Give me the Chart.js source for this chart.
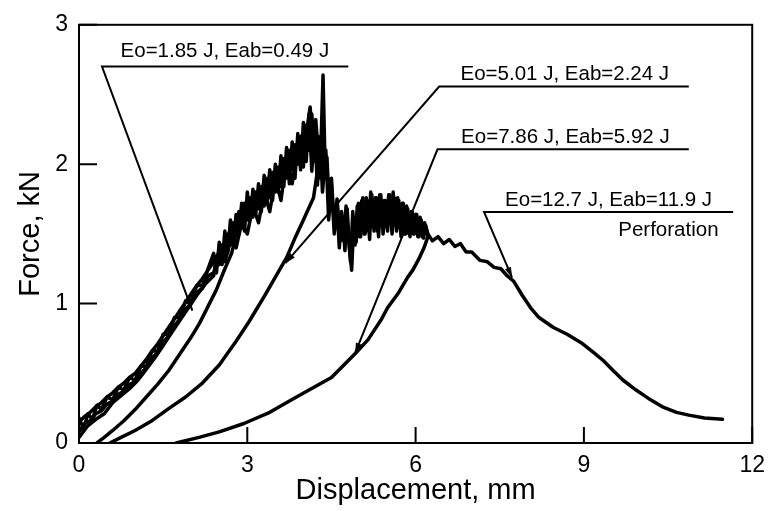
<!DOCTYPE html>
<html>
<head>
<meta charset="utf-8">
<script src="https://cdn.jsdelivr.net/npm/chart.js@4/dist/chart.umd.min.js"></script>
<style>
  body { margin: 0; background: #fff; }
  canvas { display: block; }
</style>
</head>
<body>
<canvas id="grafico" width="774" height="511"></canvas>
<script>
// Ensayo 1: Eo=1.85 J (carga y descarga)
const desp1 = [0, 0.1, 0.2, 0.3, 0.4, 0.5, 0.6, 0.7, 0.8, 0.9, 1.0, 1.1, 1.2, 1.3, 1.4, 1.5, 1.6, 1.7, 1.8, 1.9,
  2.0, 2.1, 2.2, 2.3, 2.4, 2.5, 2.6, 2.7, 2.78,
  2.72, 2.6, 2.45, 2.3, 2.15, 2.0, 1.8, 1.6, 1.4, 1.2, 1.0, 0.8, 0.6, 0.45, 0.32];
const fuerza1 = [0.15, 0.19, 0.22, 0.26, 0.29, 0.33, 0.36, 0.4, 0.43, 0.47, 0.5, 0.55, 0.6, 0.66, 0.71, 0.77, 0.83, 0.89, 0.95, 1.01,
  1.07, 1.13, 1.18, 1.24, 1.3, 1.37, 1.43, 1.5, 1.46,
  1.36, 1.25, 1.1, 0.98, 0.86, 0.76, 0.64, 0.52, 0.42, 0.33, 0.24, 0.16, 0.09, 0.04, 0];

// Ensayo 2: Eo=5.01 J
const desp2 = [0, 0.1, 0.2, 0.3, 0.4, 0.5, 0.6, 0.7, 0.8, 0.9, 1.0, 1.1, 1.2, 1.3, 1.4, 1.5, 1.6, 1.7, 1.8, 1.9,
  2.0, 2.1, 2.2, 2.3, 2.4, 2.5, 2.6, 2.7, 2.8, 2.9, 3.0, 3.1, 3.2, 3.3, 3.4, 3.5, 3.6, 3.7, 3.8, 3.9,
  4.0, 4.05, 4.1, 4.15, 4.2, 4.26, 4.3, 4.35, 4.38,
  4.3, 4.25, 4.18, 4.0, 3.85, 3.7, 3.5, 3.3, 3.03, 2.8, 2.5, 2.2, 1.9, 1.61, 1.3, 1.0, 0.75, 0.55];
const fuerza2 = [0.08, 0.14, 0.16, 0.21, 0.23, 0.28, 0.3, 0.35, 0.37, 0.42, 0.44, 0.5, 0.54, 0.61, 0.65, 0.72, 0.77, 0.84, 0.89, 0.96,
  1.0, 1.08, 1.11, 1.2, 1.22, 1.32, 1.3, 1.45, 1.4, 1.58, 1.5, 1.7, 1.58, 1.8, 1.66, 1.9, 1.74, 2.04, 1.86, 2.12,
  1.98, 2.28, 2.1, 2.36, 2.02, 2.2, 1.95, 2.64, 2.1,
  1.9, 1.95, 1.76, 1.6, 1.47, 1.33, 1.19, 1.05, 0.87, 0.73, 0.56, 0.43, 0.33, 0.25, 0.16, 0.09, 0.04, 0];

// Ensayo 3: Eo=7.86 J
const desp3 = [0, 0.15, 0.3, 0.45, 0.6, 0.75, 0.9, 1.05, 1.2, 1.35, 1.5, 1.65, 1.8, 1.95, 2.1, 2.25,
  2.4, 2.45, 2.5, 2.55, 2.6, 2.65, 2.7, 2.75, 2.8, 2.85, 2.9, 2.95, 3.0, 3.05, 3.1, 3.15, 3.2, 3.25, 3.3, 3.35,
  3.4, 3.45, 3.5, 3.55, 3.6, 3.65, 3.7, 3.75, 3.8, 3.85, 3.9, 3.95, 4.0, 4.06, 4.12, 4.16, 4.22, 4.28, 4.33, 4.38,
  4.42, 4.46, 4.5, 4.55, 4.6, 4.66, 4.7, 4.74, 4.78, 4.82, 4.86, 4.9, 4.94, 4.98, 5.02, 5.06, 5.1, 5.14, 5.18, 5.22,
  5.26, 5.3, 5.34, 5.38, 5.42, 5.46, 5.5, 5.54, 5.58, 5.62, 5.66, 5.7, 5.74, 5.78, 5.82, 5.86, 5.9, 5.94, 5.98, 6.02,
  6.06, 6.1, 6.14, 6.18, 6.22,
  6.15, 6.07, 5.95, 5.86, 5.7, 5.5, 5.38, 5.15, 4.92, 4.7, 4.5, 4.1, 3.79, 3.4, 2.94, 2.5, 2.14, 1.73];
const fuerza3 = [0.04, 0.12, 0.17, 0.21, 0.29, 0.34, 0.39, 0.45, 0.53, 0.61, 0.7, 0.79, 0.88, 0.97, 1.06, 1.14,
  1.2, 1.34, 1.28, 1.42, 1.34, 1.5, 1.42, 1.58, 1.48, 1.66, 1.54, 1.72, 1.6, 1.76, 1.62, 1.8, 1.68, 1.84, 1.7, 1.9,
  1.76, 1.94, 1.8, 1.98, 1.84, 2.04, 1.9, 2.1, 1.96, 2.14, 2.0, 2.2, 2.06, 2.24, 2.41, 2.2, 2.32, 2.0, 2.2, 1.9,
  2.05, 1.7, 1.9, 1.55, 1.75, 1.45, 1.62, 1.38, 1.68, 1.4, 1.24, 1.6, 1.44, 1.72, 1.48, 1.76, 1.5, 1.74, 1.46, 1.78,
  1.52, 1.76, 1.48, 1.78, 1.5, 1.74, 1.52, 1.78, 1.5, 1.76, 1.52, 1.74, 1.48, 1.72, 1.5, 1.68, 1.48, 1.66, 1.5, 1.64,
  1.48, 1.6, 1.47, 1.56, 1.48,
  1.4, 1.33, 1.24, 1.19, 1.08, 0.97, 0.88, 0.74, 0.64, 0.55, 0.47, 0.38, 0.31, 0.22, 0.14, 0.08, 0.04, 0];

// Ensayo 4: Eo=12.7 J (perforación)
const desp4 = [0, 0.08, 0.16, 0.24, 0.32, 0.4, 0.5, 0.6, 0.7, 0.8, 0.9, 1.0, 1.1, 1.2, 1.3, 1.4, 1.5, 1.6, 1.7, 1.8,
  1.9, 2.0, 2.1, 2.2, 2.3, 2.4, 2.45, 2.5, 2.55, 2.6, 2.65, 2.7, 2.75, 2.8, 2.85, 2.9, 2.95, 3.0, 3.05, 3.1,
  3.15, 3.2, 3.25, 3.3, 3.35, 3.4, 3.45, 3.5, 3.55, 3.6, 3.65, 3.7, 3.75, 3.8, 3.85, 3.9, 3.95, 4.0, 4.05, 4.1,
  4.15, 4.2, 4.25, 4.3, 4.34, 4.4, 4.45, 4.5, 4.55, 4.6, 4.64, 4.68, 4.72, 4.76, 4.8, 4.84, 4.88, 4.92, 4.96, 5.0,
  5.04, 5.08, 5.12, 5.16, 5.2, 5.24, 5.28, 5.32, 5.36, 5.4, 5.44, 5.48, 5.52, 5.56, 5.6, 5.64, 5.68, 5.72, 5.76, 5.8,
  5.84, 5.88, 5.92, 5.96, 6.0, 6.04, 6.08, 6.12, 6.16, 6.22, 6.3, 6.4, 6.5, 6.6, 6.7, 6.8, 6.9, 7.0, 7.15, 7.28,
  7.4, 7.52, 7.63, 7.75, 7.9, 8.05, 8.2, 8.45, 8.7, 8.95, 9.17, 9.35, 9.52, 9.7, 9.93, 10.15, 10.4, 10.65, 10.87, 11.15,
  11.47];
const fuerza4 = [0.18, 0.1, 0.21, 0.17, 0.27, 0.24, 0.33, 0.31, 0.4, 0.38, 0.47, 0.45, 0.55, 0.55, 0.66, 0.66, 0.78, 0.78, 0.9, 0.9,
  1.02, 1.02, 1.13, 1.13, 1.25, 1.36, 1.22, 1.44, 1.28, 1.52, 1.36, 1.6, 1.42, 1.64, 1.5, 1.72, 1.52, 1.8, 1.6, 1.82,
  1.64, 1.86, 1.66, 1.92, 1.72, 1.96, 1.74, 2.0, 1.8, 2.06, 1.84, 2.12, 1.86, 2.16, 1.9, 2.22, 1.96, 2.3, 2.02, 2.36,
  1.95, 2.25, 1.85, 2.15, 1.8, 2.1, 1.6, 1.85, 1.5, 1.7, 1.4, 1.66, 1.45, 1.7, 1.5, 1.3, 1.66, 1.42, 1.7, 1.48,
  1.74, 1.5, 1.76, 1.52, 1.8, 1.55, 1.76, 1.52, 1.78, 1.56, 1.74, 1.55, 1.78, 1.58, 1.8, 1.56, 1.76, 1.54, 1.72, 1.5,
  1.7, 1.5, 1.66, 1.5, 1.64, 1.48, 1.62, 1.48, 1.58, 1.5, 1.45, 1.48, 1.43, 1.46, 1.41, 1.43, 1.37, 1.37, 1.31, 1.3,
  1.26, 1.25, 1.2, 1.16, 1.06, 0.97, 0.9, 0.83, 0.78, 0.72, 0.65, 0.59, 0.52, 0.45, 0.38, 0.32, 0.26, 0.22, 0.2, 0.18,
  0.17];

// Textos de las notas
const notasTexto = ['Eo=1.85 J, Eab=0.49 J', 'Eo=5.01 J, Eab=2.24 J', 'Eo=7.86 J, Eab=5.92 J', 'Eo=12.7 J, Eab=11.9 J'];
const textoPerforacion = 'Perforation';

// Posición de cada nota en unidades del gráfico (mm, kN)
const notas = [
  { texto: 0, tx: 2.6, ty: 2.771, x0: 0.41, x1: 4.8, yl: 2.70, px: 2.02, py: 0.95 },
  { texto: 1, tx: 8.66, ty: 2.607, x0: 6.42, x1: 10.87, yl: 2.557, px: 3.68, py: 1.29 },
  { texto: 2, tx: 8.67, ty: 2.15, x0: 6.39, x1: 10.87, yl: 2.107, px: 4.92, py: 0.643 },
  { texto: 3, tx: 9.44, ty: 1.70, x0: 7.22, x1: 11.66, yl: 1.657, px: 7.72, py: 1.186 }
];

const fuente = '"Liberation Sans", Arial, Helvetica, sans-serif';

function puntos(xs, ys) {
  return xs.map((x, i) => ({ x: x, y: ys[i] }));
}

function serie(xs, ys) {
  return {
    data: puntos(xs, ys),
    showLine: true,
    borderColor: '#000',
    backgroundColor: '#000',
    borderWidth: 3.5,
    pointRadius: 0,
    tension: 0,
    borderJoinStyle: 'round',
    borderCapStyle: 'round'
  };
}

// Marco, ticks interiores y notas con flechas
const marcoYNotas = {
  id: 'marcoYNotas',
  afterDraw(chart) {
    const ctx = chart.ctx;
    const a = chart.chartArea;
    const sx = chart.scales.x;
    const sy = chart.scales.y;
    ctx.save();
    ctx.strokeStyle = '#000';
    ctx.lineWidth = 2;
    ctx.strokeRect(a.left, a.top, a.right - a.left, a.bottom - a.top);

    ctx.beginPath();
    sx.ticks.forEach(t => {
      const p = sx.getPixelForValue(t.value);
      ctx.moveTo(p, a.bottom);
      ctx.lineTo(p, a.bottom - 16);
    });
    sy.ticks.forEach(t => {
      const p = sy.getPixelForValue(t.value);
      ctx.moveTo(a.left, p);
      ctx.lineTo(a.left + 18, p);
    });
    ctx.stroke();

    ctx.fillStyle = '#000';
    ctx.font = '20.5px ' + fuente;
    ctx.textBaseline = 'alphabetic';
    notas.forEach(n => {
      const x0 = sx.getPixelForValue(n.x0);
      const x1 = sx.getPixelForValue(n.x1);
      const yl = sy.getPixelForValue(n.yl);
      const px = sx.getPixelForValue(n.px);
      const py = sy.getPixelForValue(n.py);
      ctx.lineWidth = 2;
      ctx.beginPath();
      ctx.moveTo(x1, yl);
      ctx.lineTo(x0, yl);
      ctx.lineTo(px, py);
      ctx.stroke();
      // punta de flecha
      const ang = Math.atan2(py - yl, px - x0);
      ctx.beginPath();
      ctx.moveTo(px, py);
      ctx.lineTo(px - 11 * Math.cos(ang - 0.3), py - 11 * Math.sin(ang - 0.3));
      ctx.lineTo(px - 11 * Math.cos(ang + 0.3), py - 11 * Math.sin(ang + 0.3));
      ctx.closePath();
      ctx.fill();
      ctx.textAlign = 'center';
      ctx.fillText(notasTexto[n.texto], sx.getPixelForValue(n.tx), sy.getPixelForValue(n.ty));
    });
    ctx.textAlign = 'right';
    ctx.fillText(textoPerforacion, sx.getPixelForValue(11.4), sy.getPixelForValue(1.486));
    ctx.restore();
  }
};

const config = {
  type: 'scatter',
  data: {
    datasets: [
      serie(desp1, fuerza1),
      serie(desp2, fuerza2),
      serie(desp3, fuerza3),
      serie(desp4, fuerza4)
    ]
  },
  options: {
    responsive: false,
    animation: false,
    layout: { padding: { left: 0, right: 17, top: 23, bottom: 0 } },
    plugins: { legend: { display: false }, tooltip: { enabled: false } },
    scales: {
      x: {
        type: 'linear',
        min: 0,
        max: 12,
        grid: { display: false, drawTicks: false },
        border: { display: false },
        ticks: { stepSize: 3, color: '#000', padding: 9, font: { size: 23, family: fuente } },
        title: { display: true, text: 'Displacement, mm', color: '#000', font: { size: 29, family: fuente, lineHeight: 1 }, padding: { top: 0, bottom: 6 } },
        afterFit: scale => { scale.height = 68; }
      },
      y: {
        type: 'linear',
        min: 0,
        max: 3,
        grid: { display: false, drawTicks: false },
        border: { display: false },
        ticks: { stepSize: 1, color: '#000', padding: 11, font: { size: 23, family: fuente } },
        title: { display: true, text: 'Force, kN', color: '#000', font: { size: 29, family: fuente, lineHeight: 1 }, padding: { top: 16, bottom: 0 } },
        afterFit: scale => { scale.width = 79; }
      }
    }
  },
  plugins: [marcoYNotas]
};

new Chart(document.getElementById('grafico').getContext('2d'), config);
</script>
</body>
</html>
